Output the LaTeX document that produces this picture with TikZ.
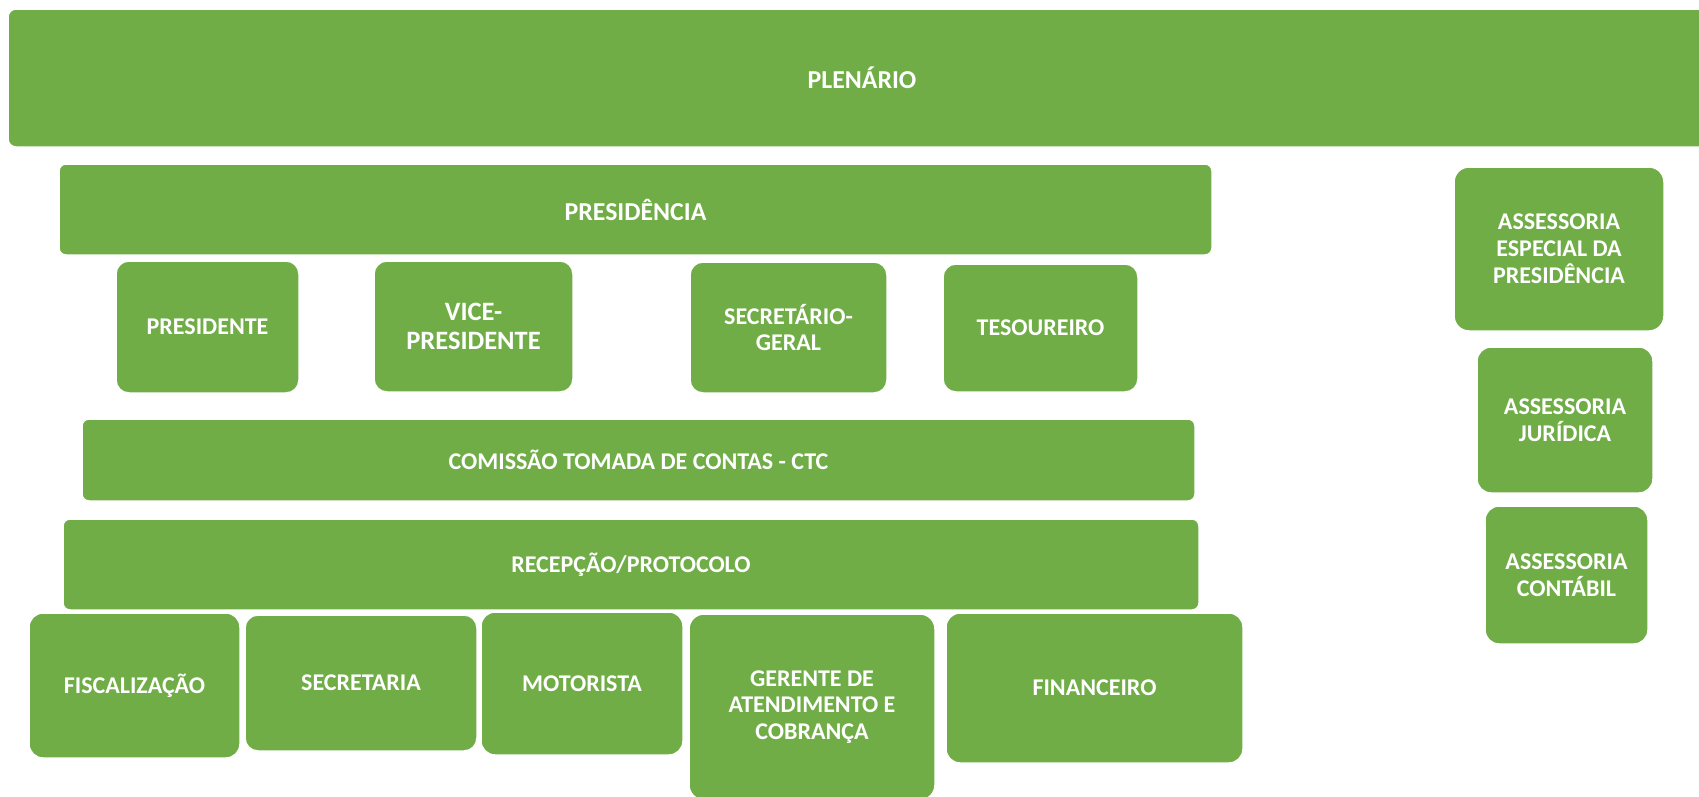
\documentclass[tikz,border=0pt]{standalone}
\usepackage{fontspec}
\setmainfont{Carlito}
\definecolor{boxgreen}{RGB}{112,173,71}
\tikzset{
  orgbox/.style={fill=boxgreen, draw=white, line width=1.5pt, text=white,
    font=\bfseries\fontsize{24}{26.8}\selectfont, align=center,
    inner sep=0pt, rounded corners=#1},
  bigtext/.style={font=\bfseries\fontsize{25.8}{28.8}\selectfont},
  vicetext/.style={font=\bfseries\fontsize{26.5}{29.6}\selectfont},
}
\newcommand\orgnode[8][]{%
  \node[orgbox=#7, minimum width={#5-#3}, minimum height={#6-#4}, #1]
    (#2) at ({(#3+#5)/2},{(#4+#6)/2}) {#8};}
\begin{document}
\begin{tikzpicture}[x=1pt,y=-1pt]
\useasboundingbox (0,0) rectangle (1699,796);
\clip (0,0) rectangle (1699,796);
% bars
\orgnode[bigtext]{plen}{8}{9}{1716}{147}{8pt}{PLENÁRIO}
\orgnode[bigtext]{presid}{59}{164}{1212}{255}{7pt}{PRESIDÊNCIA}
\orgnode{ctc}{82}{419}{1195}{501}{7pt}{COMISSÃO TOMADA DE CONTAS - CTC}
\orgnode{recep}{63}{519}{1199}{610}{7pt}{RECEPÇÃO/PROTOCOLO}
% board
\orgnode{pres}{116}{261}{299}{393}{13pt}{PRESIDENTE}
\orgnode[vicetext]{vice}{374}{261}{573}{392}{13pt}{VICE-\\PRESIDENTE}
\orgnode{secg}{690}{262}{887}{393}{13pt}{SECRETÁRIO-\\GERAL}
\orgnode{tes}{943}{264}{1138}{392}{13pt}{TESOUREIRO}
% advisory
\orgnode{aesp}{1454}{167}{1664}{331}{15pt}{ASSESSORIA\\ESPECIAL DA\\PRESIDÊNCIA}
\orgnode{ajur}{1477}{347}{1653}{493}{14pt}{ASSESSORIA\\JURÍDICA}
\orgnode{acont}{1485}{506}{1648}{644}{14pt}{ASSESSORIA\\CONTÁBIL}
% departments
\orgnode{fisc}{29}{613}{240}{758}{14pt}{FISCALIZAÇÃO}
\orgnode{secr}{245}{615}{477}{751}{13pt}{SECRETARIA}
\orgnode{mot}{481}{612}{683}{755}{14pt}{MOTORISTA}
\orgnode{ger}{689}{614}{935}{800}{15pt}{GERENTE DE\\ATENDIMENTO E\\COBRANÇA}
\orgnode{fin}{946}{613}{1243}{763}{14pt}{FINANCEIRO}
\end{tikzpicture}
\end{document}
